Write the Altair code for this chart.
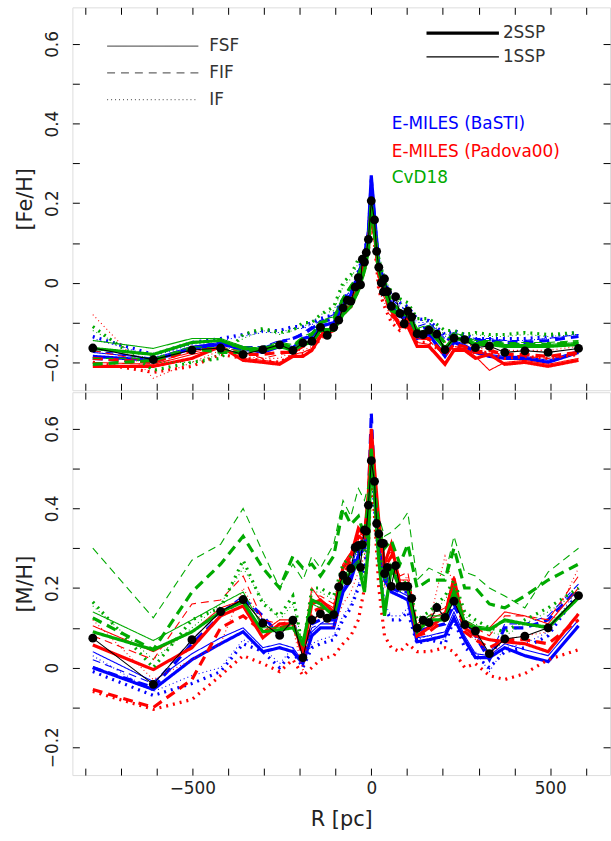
import altair as alt
import pandas as pd

# Radial grid shared by the model profiles (pc)
R_GRID = [-778, -609, -501, -421, -358, -303, -256, -219, -191, -166, -142, -105, -79, -57,
          -36, -19, -8, 0, 9, 21, 37, 56, 80, 102, 128, 161, 206, 231, 261, 291, 330, 373,
          429, 494, 579]

# Radial positions and mean values of the combined measurements
R_POINTS = [-778, -609, -501, -421, -358, -303, -256, -219, -191, -166, -142, -123, -105, -91,
            -79, -67, -57, -45, -36, -30, -25, -19, -14, -8, 0, 9, 15, 21, 28, 34, 37, 45, 56,
            68, 80, 92, 102, 113, 128, 145, 161, 183, 206, 231, 261, 291, 330, 373, 429, 494, 579]
FE_POINTS = [-0.164, -0.193, -0.169, -0.164, -0.180, -0.168, -0.156, -0.170, -0.151, -0.147,
             -0.112, -0.132, -0.112, -0.094, -0.063, -0.044, -0.046, -0.011, 0.013, -0.005,
             0.059, 0.052, 0.076, 0.109, 0.206, 0.158, 0.079, 0.039, 0.0, -0.023, 0.010, -0.022,
             -0.059, -0.035, -0.077, -0.103, -0.071, -0.086, -0.128, -0.130, -0.119, -0.129,
             -0.168, -0.139, -0.143, -0.163, -0.159, -0.175, -0.171, -0.175, -0.165]
MH_POINTS = [0.074, -0.042, 0.070, 0.141, 0.171, 0.112, 0.081, 0.119, 0.025, 0.120, 0.135,
             0.124, 0.133, 0.203, 0.232, 0.218, 0.249, 0.302, 0.307, 0.252, 0.309, 0.346, 0.343,
             0.408, 0.520, 0.468, 0.362, 0.336, 0.312, 0.312, 0.236, 0.252, 0.204, 0.256, 0.204,
             0.204, 0.204, 0.174, 0.099, 0.119, 0.113, 0.151, 0.126, 0.167, 0.108, 0.092, 0.035,
             0.072, 0.079, 0.100, 0.181]

# [Fe/H] profiles
FE_BASTI_FSF_2SSP = [-0.185, -0.195, -0.165, -0.155, -0.165, -0.175, -0.16, -0.165, -0.14, -0.135, -0.11, -0.10, -0.06, -0.03, 0.02, 0.07, 0.13, 0.27, 0.17, 0.05, 0.0, -0.06, -0.085, -0.09, -0.14, -0.13, -0.185, -0.15, -0.16, -0.175, -0.185, -0.19, -0.19, -0.2, -0.175]
FE_BASTI_FSF_1SSP = [-0.175, -0.19, -0.16, -0.15, -0.16, -0.17, -0.155, -0.16, -0.14, -0.13, -0.105, -0.10, -0.055, -0.03, 0.02, 0.065, 0.12, 0.25, 0.16, 0.05, 0.0, -0.055, -0.08, -0.085, -0.135, -0.125, -0.18, -0.145, -0.155, -0.17, -0.18, -0.185, -0.185, -0.195, -0.17]
FE_BASTI_FIF_2SSP = [-0.19, -0.2, -0.165, -0.15, -0.17, -0.165, -0.15, -0.14, -0.13, -0.115, -0.10, -0.09, -0.05, -0.03, 0.02, 0.07, 0.12, 0.26, 0.16, 0.04, 0.0, -0.05, -0.07, -0.08, -0.12, -0.11, -0.15, -0.13, -0.14, -0.145, -0.145, -0.15, -0.15, -0.145, -0.135]
FE_BASTI_FIF_1SSP = [-0.17, -0.19, -0.16, -0.15, -0.16, -0.16, -0.145, -0.14, -0.125, -0.11, -0.095, -0.08, -0.04, -0.02, 0.03, 0.08, 0.12, 0.24, 0.15, 0.05, 0.01, -0.04, -0.06, -0.07, -0.11, -0.10, -0.14, -0.125, -0.135, -0.14, -0.14, -0.145, -0.145, -0.14, -0.13]
FE_BASTI_IF_2SSP = [-0.135, -0.18, -0.15, -0.14, -0.13, -0.12, -0.12, -0.11, -0.11, -0.1, -0.09, -0.08, -0.04, -0.02, 0.03, 0.08, 0.12, 0.24, 0.14, 0.04, 0.0, -0.03, -0.05, -0.06, -0.09, -0.095, -0.13, -0.12, -0.13, -0.14, -0.14, -0.14, -0.14, -0.135, -0.125]
FE_BASTI_IF_1SSP = [-0.14, -0.185, -0.155, -0.145, -0.135, -0.125, -0.125, -0.115, -0.115, -0.105, -0.095, -0.085, -0.045, -0.025, 0.025, 0.07, 0.11, 0.22, 0.13, 0.035, -0.005, -0.04, -0.06, -0.065, -0.1, -0.1, -0.135, -0.125, -0.135, -0.145, -0.145, -0.145, -0.145, -0.14, -0.13]
FE_PADOVA_FSF_2SSP = [-0.21, -0.21, -0.19, -0.16, -0.195, -0.2, -0.205, -0.185, -0.185, -0.17, -0.135, -0.12, -0.075, -0.06, -0.01, 0.04, 0.09, 0.17, 0.12, 0.02, -0.02, -0.07, -0.11, -0.11, -0.16, -0.16, -0.205, -0.17, -0.17, -0.19, -0.18, -0.205, -0.2, -0.21, -0.195]
FE_PADOVA_FSF_1SSP = [-0.2, -0.205, -0.18, -0.165, -0.19, -0.195, -0.2, -0.18, -0.175, -0.165, -0.13, -0.115, -0.07, -0.055, -0.005, 0.045, 0.1, 0.18, 0.13, 0.025, -0.015, -0.065, -0.1, -0.1, -0.15, -0.155, -0.2, -0.165, -0.165, -0.185, -0.22, -0.2, -0.195, -0.205, -0.19]
FE_PADOVA_FIF_2SSP = [-0.19, -0.2, -0.17, -0.165, -0.18, -0.18, -0.175, -0.175, -0.16, -0.15, -0.125, -0.12, -0.07, -0.05, 0.0, 0.05, 0.1, 0.19, 0.13, 0.02, -0.03, -0.08, -0.1, -0.09, -0.14, -0.14, -0.18, -0.155, -0.16, -0.175, -0.17, -0.18, -0.18, -0.185, -0.175]
FE_PADOVA_FIF_1SSP = [-0.17, -0.2, -0.175, -0.16, -0.175, -0.19, -0.18, -0.175, -0.16, -0.145, -0.13, -0.12, -0.08, -0.06, 0.0, 0.05, 0.12, 0.2, 0.12, 0.01, -0.04, -0.085, -0.105, -0.095, -0.14, -0.145, -0.185, -0.16, -0.165, -0.18, -0.175, -0.18, -0.185, -0.19, -0.18]
FE_PADOVA_IF_2SSP = [-0.2, -0.225, -0.21, -0.18, -0.19, -0.195, -0.2, -0.18, -0.18, -0.17, -0.14, -0.12, -0.08, -0.06, -0.02, 0.03, 0.08, 0.16, 0.1, -0.02, -0.06, -0.1, -0.12, -0.11, -0.15, -0.15, -0.18, -0.16, -0.165, -0.175, -0.175, -0.19, -0.185, -0.19, -0.18]
FE_PADOVA_IF_1SSP = [-0.08, -0.24, -0.2, -0.17, -0.185, -0.19, -0.19, -0.17, -0.17, -0.16, -0.13, -0.11, -0.07, -0.05, -0.01, 0.04, 0.09, 0.15, 0.1, -0.02, -0.05, -0.09, -0.11, -0.1, -0.13, -0.125, -0.15, -0.14, -0.15, -0.165, -0.165, -0.17, -0.17, -0.17, -0.16]
FE_CVD_FSF_2SSP = [-0.165, -0.18, -0.15, -0.145, -0.165, -0.17, -0.16, -0.17, -0.155, -0.15, -0.12, -0.12, -0.08, -0.06, -0.02, 0.03, 0.08, 0.2, 0.13, 0.03, -0.02, -0.07, -0.08, -0.08, -0.13, -0.12, -0.165, -0.14, -0.145, -0.155, -0.155, -0.16, -0.16, -0.16, -0.155]
FE_CVD_FSF_1SSP = [-0.145, -0.165, -0.14, -0.14, -0.16, -0.165, -0.155, -0.165, -0.15, -0.145, -0.115, -0.115, -0.07, -0.05, -0.01, 0.04, 0.09, 0.19, 0.12, 0.03, -0.015, -0.065, -0.075, -0.075, -0.125, -0.115, -0.16, -0.135, -0.14, -0.15, -0.15, -0.155, -0.155, -0.155, -0.15]
FE_CVD_FIF_2SSP = [-0.205, -0.195, -0.165, -0.175, -0.175, -0.165, -0.155, -0.16, -0.14, -0.13, -0.1, -0.09, -0.04, -0.01, 0.02, 0.06, 0.1, 0.19, 0.12, 0.02, 0.0, -0.05, -0.07, -0.07, -0.12, -0.11, -0.15, -0.13, -0.14, -0.15, -0.15, -0.155, -0.155, -0.155, -0.15]
FE_CVD_FIF_1SSP = [-0.19, -0.19, -0.16, -0.165, -0.17, -0.16, -0.15, -0.155, -0.135, -0.125, -0.095, -0.085, -0.035, -0.005, 0.025, 0.065, 0.11, 0.18, 0.11, 0.02, -0.005, -0.05, -0.065, -0.065, -0.115, -0.105, -0.145, -0.125, -0.135, -0.145, -0.145, -0.15, -0.15, -0.15, -0.145]
FE_CVD_IF_2SSP = [-0.11, -0.22, -0.2, -0.19, -0.13, -0.115, -0.125, -0.12, -0.1, -0.1, -0.08, -0.06, 0.0, 0.02, 0.06, 0.07, 0.1, 0.2, 0.14, 0.06, 0.0, -0.02, -0.04, -0.05, -0.09, -0.09, -0.12, -0.12, -0.13, -0.125, -0.13, -0.13, -0.125, -0.13, -0.125]
FE_CVD_IF_1SSP = [-0.12, -0.2, -0.2, -0.18, -0.14, -0.12, -0.13, -0.12, -0.11, -0.1, -0.08, -0.07, -0.01, 0.01, 0.05, 0.06, 0.11, 0.18, 0.13, 0.07, 0.02, -0.03, -0.05, -0.06, -0.09, -0.1, -0.13, -0.125, -0.135, -0.13, -0.135, -0.135, -0.13, -0.135, -0.13]

# [M/H] profiles
MH_BASTI_FSF_2SSP = [0.0, -0.055, 0.02, 0.06, 0.09, 0.04, 0.05, 0.04, 0.01, 0.08, 0.10, 0.10, 0.19, 0.22, 0.28, 0.30, 0.37, 0.58, 0.45, 0.30, 0.22, 0.19, 0.18, 0.17, 0.065, 0.07, 0.08, 0.125, 0.07, 0.025, 0.025, 0.05, 0.03, 0.015, 0.105]
MH_BASTI_FSF_1SSP = [0.04, -0.035, 0.035, 0.075, 0.1, 0.05, 0.06, 0.05, 0.015, 0.09, 0.11, 0.11, 0.2, 0.23, 0.29, 0.31, 0.38, 0.56, 0.44, 0.31, 0.23, 0.2, 0.19, 0.18, 0.075, 0.08, 0.09, 0.14, 0.08, 0.035, 0.03, 0.06, 0.045, 0.03, 0.12]
MH_BASTI_FIF_2SSP = [0.0, -0.05, 0.06, 0.13, 0.175, 0.13, 0.08, 0.12, 0.03, 0.11, 0.12, 0.12, 0.21, 0.24, 0.30, 0.33, 0.42, 0.64, 0.46, 0.33, 0.24, 0.2, 0.19, 0.19, 0.09, 0.10, 0.11, 0.16, 0.10, 0.08, 0.02, 0.1, 0.1, 0.12, 0.20]
MH_BASTI_FIF_1SSP = [0.02, -0.04, 0.07, 0.14, 0.18, 0.12, 0.09, 0.11, 0.04, 0.1, 0.11, 0.13, 0.22, 0.25, 0.31, 0.33, 0.4, 0.6, 0.45, 0.32, 0.23, 0.21, 0.2, 0.19, 0.1, 0.11, 0.12, 0.15, 0.11, 0.085, 0.03, 0.11, 0.11, 0.13, 0.21]
MH_BASTI_IF_2SSP = [-0.01, -0.07, -0.04, -0.01, 0.06, 0.04, 0.0, 0.04, 0.0, 0.05, 0.06, 0.07, 0.12, 0.15, 0.2, 0.25, 0.33, 0.55, 0.4, 0.27, 0.15, 0.12, 0.12, 0.14, 0.06, 0.07, 0.06, 0.12, 0.05, 0.03, 0.0, 0.04, 0.05, 0.08, 0.19]
MH_BASTI_IF_1SSP = [0.03, -0.06, -0.02, 0.0, 0.07, 0.05, 0.01, 0.05, 0.01, 0.06, 0.07, 0.08, 0.13, 0.16, 0.21, 0.26, 0.34, 0.53, 0.41, 0.28, 0.16, 0.13, 0.13, 0.15, 0.07, 0.08, 0.07, 0.13, 0.06, 0.04, -0.01, 0.05, 0.06, 0.09, 0.2]
MH_PADOVA_FSF_2SSP = [0.057, -0.005, 0.05, 0.13, 0.155, 0.075, 0.11, 0.11, 0.04, 0.16, 0.17, 0.14, 0.25, 0.28, 0.35, 0.33, 0.44, 0.60, 0.50, 0.37, 0.26, 0.31, 0.21, 0.21, 0.08, 0.10, 0.13, 0.225, 0.10, 0.08, 0.07, 0.065, 0.06, 0.04, 0.135]
MH_PADOVA_FSF_1SSP = [0.105, 0.04, 0.09, 0.15, 0.17, 0.09, 0.12, 0.12, 0.05, 0.2, 0.17, 0.15, 0.26, 0.29, 0.33, 0.34, 0.43, 0.58, 0.49, 0.36, 0.27, 0.3, 0.22, 0.22, 0.1, 0.12, 0.14, 0.23, 0.11, 0.09, 0.1, 0.14, 0.13, 0.11, 0.2]
MH_PADOVA_FIF_2SSP = [-0.055, -0.1, -0.03, 0.1, 0.13, 0.09, 0.1, 0.11, 0.03, 0.14, 0.15, 0.14, 0.23, 0.27, 0.33, 0.32, 0.42, 0.58, 0.48, 0.35, 0.25, 0.28, 0.2, 0.2, 0.08, 0.09, 0.12, 0.2, 0.09, 0.07, 0.05, 0.07, 0.07, 0.06, 0.12]
MH_PADOVA_FIF_1SSP = [0.08, 0.02, 0.16, 0.17, 0.23, 0.12, 0.11, 0.12, 0.05, 0.18, 0.18, 0.16, 0.26, 0.29, 0.34, 0.35, 0.45, 0.6, 0.5, 0.37, 0.28, 0.29, 0.23, 0.24, 0.11, 0.13, 0.15, 0.22, 0.12, 0.1, 0.08, 0.13, 0.13, 0.12, 0.23]
MH_PADOVA_IF_2SSP = [-0.06, -0.105, -0.08, -0.02, 0.03, 0.01, -0.01, 0.02, -0.02, 0.0, 0.02, 0.03, 0.06, 0.08, 0.12, 0.2, 0.3, 0.5, 0.38, 0.2, 0.08, 0.05, 0.04, 0.06, 0.04, 0.04, 0.05, 0.04, 0.0, 0.01, -0.02, -0.03, -0.015, 0.02, 0.045]
MH_PADOVA_IF_1SSP = [0.12, -0.03, 0.02, 0.06, 0.2, 0.11, 0.09, 0.1, -0.01, 0.12, 0.13, 0.1, 0.16, 0.19, 0.24, 0.28, 0.38, 0.55, 0.43, 0.3, 0.2, 0.24, 0.21, 0.23, 0.09, 0.11, 0.28, 0.2, 0.09, 0.07, 0.03, 0.07, 0.08, 0.09, 0.25]
MH_CVD_FSF_2SSP = [0.09, 0.045, 0.09, 0.14, 0.165, 0.09, 0.095, 0.1, 0.06, 0.17, 0.16, 0.13, 0.22, 0.24, 0.26, 0.19, 0.30, 0.55, 0.43, 0.27, 0.13, 0.25, 0.2, 0.2, 0.09, 0.12, 0.12, 0.19, 0.11, 0.1, 0.095, 0.12, 0.11, 0.1, 0.175]
MH_CVD_FSF_1SSP = [0.14, 0.068, 0.12, 0.16, 0.19, 0.1, 0.1, 0.11, 0.07, 0.16, 0.15, 0.14, 0.23, 0.25, 0.27, 0.22, 0.32, 0.53, 0.42, 0.28, 0.16, 0.24, 0.21, 0.21, 0.1, 0.13, 0.13, 0.2, 0.12, 0.105, 0.1, 0.115, 0.11, 0.105, 0.18]
MH_CVD_FIF_2SSP = [0.125, 0.045, 0.19, 0.26, 0.33, 0.25, 0.20, 0.28, 0.25, 0.26, 0.23, 0.28, 0.40, 0.36, 0.38, 0.33, 0.42, 0.50, 0.45, 0.35, 0.30, 0.32, 0.26, 0.31, 0.20, 0.22, 0.22, 0.30, 0.20, 0.20, 0.16, 0.15, 0.18, 0.22, 0.26]
MH_CVD_FIF_1SSP = [0.30, 0.125, 0.27, 0.31, 0.40, 0.29, 0.20, 0.26, 0.22, 0.28, 0.25, 0.31, 0.42, 0.38, 0.45, 0.42, 0.46, 0.55, 0.47, 0.38, 0.33, 0.34, 0.36, 0.39, 0.22, 0.25, 0.23, 0.33, 0.24, 0.23, 0.20, 0.18, 0.15, 0.24, 0.30]
MH_CVD_IF_2SSP = [0.165, 0.0, 0.12, 0.15, 0.27, 0.16, 0.13, 0.18, 0.05, 0.2, 0.2, 0.18, 0.26, 0.28, 0.3, 0.29, 0.38, 0.55, 0.44, 0.3, 0.22, 0.26, 0.2, 0.22, 0.12, 0.14, 0.18, 0.22, 0.14, 0.12, 0.1, 0.09, 0.12, 0.15, 0.2]
MH_CVD_IF_1SSP = [0.155, 0.02, 0.1, 0.16, 0.25, 0.17, 0.12, 0.16, 0.06, 0.19, 0.19, 0.17, 0.25, 0.27, 0.29, 0.28, 0.37, 0.53, 0.43, 0.29, 0.21, 0.25, 0.19, 0.21, 0.11, 0.13, 0.17, 0.21, 0.13, 0.11, 0.09, 0.08, 0.11, 0.14, 0.19]

MODELS = ["E-MILES (BaSTI)", "E-MILES (Padova00)", "CvD18"]
MODEL_COLORS = ["#0000ff", "#ff0000", "#00aa00"]
SSPS = ["2SSP", "1SSP"]

FE_SERIES = [
    (0, "FSF", "2SSP", FE_BASTI_FSF_2SSP), (0, "FSF", "1SSP", FE_BASTI_FSF_1SSP),
    (0, "FIF", "2SSP", FE_BASTI_FIF_2SSP), (0, "FIF", "1SSP", FE_BASTI_FIF_1SSP),
    (0, "IF", "2SSP", FE_BASTI_IF_2SSP), (0, "IF", "1SSP", FE_BASTI_IF_1SSP),
    (1, "FSF", "2SSP", FE_PADOVA_FSF_2SSP), (1, "FSF", "1SSP", FE_PADOVA_FSF_1SSP),
    (1, "FIF", "2SSP", FE_PADOVA_FIF_2SSP), (1, "FIF", "1SSP", FE_PADOVA_FIF_1SSP),
    (1, "IF", "2SSP", FE_PADOVA_IF_2SSP), (1, "IF", "1SSP", FE_PADOVA_IF_1SSP),
    (2, "FSF", "2SSP", FE_CVD_FSF_2SSP), (2, "FSF", "1SSP", FE_CVD_FSF_1SSP),
    (2, "FIF", "2SSP", FE_CVD_FIF_2SSP), (2, "FIF", "1SSP", FE_CVD_FIF_1SSP),
    (2, "IF", "2SSP", FE_CVD_IF_2SSP), (2, "IF", "1SSP", FE_CVD_IF_1SSP),
]
MH_SERIES = [
    (0, "FSF", "2SSP", MH_BASTI_FSF_2SSP), (0, "FSF", "1SSP", MH_BASTI_FSF_1SSP),
    (0, "FIF", "2SSP", MH_BASTI_FIF_2SSP), (0, "FIF", "1SSP", MH_BASTI_FIF_1SSP),
    (0, "IF", "2SSP", MH_BASTI_IF_2SSP), (0, "IF", "1SSP", MH_BASTI_IF_1SSP),
    (1, "FSF", "2SSP", MH_PADOVA_FSF_2SSP), (1, "FSF", "1SSP", MH_PADOVA_FSF_1SSP),
    (1, "FIF", "2SSP", MH_PADOVA_FIF_2SSP), (1, "FIF", "1SSP", MH_PADOVA_FIF_1SSP),
    (1, "IF", "2SSP", MH_PADOVA_IF_2SSP), (1, "IF", "1SSP", MH_PADOVA_IF_1SSP),
    (2, "FSF", "2SSP", MH_CVD_FSF_2SSP), (2, "FSF", "1SSP", MH_CVD_FSF_1SSP),
    (2, "FIF", "2SSP", MH_CVD_FIF_2SSP), (2, "FIF", "1SSP", MH_CVD_FIF_1SSP),
    (2, "IF", "2SSP", MH_CVD_IF_2SSP), (2, "IF", "1SSP", MH_CVD_IF_1SSP),
]

X_DOMAIN = [-835, 667]
Y_DOMAIN = [-0.27, 0.692]
FONT = "DejaVu Sans"

STYLE_DOMAIN = ["FSF 2SSP", "FSF 1SSP", "FIF 2SSP", "FIF 1SSP", "IF 2SSP", "IF 1SSP"]
STYLE_DASH = [[1, 0], [1, 0], [10, 6], [8, 5], [2, 5], [1, 3]]


def profile_table(series):
    rows = []
    for k, (m, meth, ssp, vals) in enumerate(series):
        for i, (r, v) in enumerate(zip(R_GRID, vals)):
            rows.append({"R": r, "v": v, "model": MODELS[m], "style": f"{meth} {ssp}",
                         "ssp": ssp, "series": k, "i": i})
    return pd.DataFrame(rows)


def x_enc(with_labels, orient="bottom"):
    axis = alt.Axis(
        orient=orient, values=list(range(-800, 700, 100)), domain=False,
        tickSize=7, offset=-7, tickColor="black", tickWidth=1,
        labels=with_labels,
        labelExpr="datum.value % 500 === 0 ? datum.label : ''",
        labelFontSize=17, labelFont=FONT, labelColor="#222", labelPadding=6,
        labelOverlap=False, labelFlush=False, grid=False,
        title="R [pc]" if with_labels else None,
        titleFontSize=21, titleFont=FONT, titleFontWeight="normal", titleColor="#222",
        titlePadding=12,
    )
    return alt.X("R:Q", scale=alt.Scale(domain=X_DOMAIN, nice=False, zero=False), axis=axis)


def y_enc(title, orient="left"):
    axis = alt.Axis(
        orient=orient, values=[-0.2, -0.1, 0.0, 0.1, 0.2, 0.3, 0.4, 0.5, 0.6], domain=False,
        tickSize=7, offset=-7, tickColor="black", tickWidth=1,
        labels=title is not None, labelAngle=270, labelAlign="center", labelBaseline="bottom",
        labelExpr="round(datum.value * 10) % 2 === 0 ? (datum.value === 0 ? '0' : format(datum.value, '.1f')) : ''",
        labelFontSize=17, labelFont=FONT, labelColor="#222", labelPadding=11,
        labelOverlap=False, labelFlush=False, grid=False,
        title=title,
        titleFontSize=21, titleFont=FONT, titleFontWeight="normal", titleColor="#222",
        titlePadding=8,
    )
    return alt.Y("v:Q", scale=alt.Scale(domain=Y_DOMAIN, nice=False, zero=False), axis=axis)


def panel(series, r_pts, v_pts, title, show_x_labels, height, legend):
    prof = profile_table(series)
    pts = pd.DataFrame({"R": r_pts, "v": v_pts})

    lines = alt.Chart(prof).mark_line(clip=True).encode(
        x=x_enc(show_x_labels),
        y=y_enc(title),
        color=alt.Color("model:N", scale=alt.Scale(domain=MODELS, range=MODEL_COLORS), legend=None),
        strokeDash=alt.StrokeDash("style:N", scale=alt.Scale(domain=STYLE_DOMAIN, range=STYLE_DASH), legend=None),
        strokeWidth=alt.StrokeWidth("ssp:N", scale=alt.Scale(domain=SSPS, range=[3.2, 1.1]), legend=None),
        detail="series:N",
        order="i:Q",
    )
    mean_line = alt.Chart(pts).mark_line(color="black", strokeWidth=1.1, clip=True).encode(
        x=alt.X("R:Q", axis=None), y=alt.Y("v:Q", axis=None)
    )
    # mirrored tick marks on the top and right edges
    mean_pts = alt.Chart(pts).mark_circle(color="black", opacity=1, size=80, clip=True).encode(
        x=x_enc(False, orient="top"), y=y_enc(None, orient="right")
    )
    layers = [lines, mean_line, mean_pts]

    if legend:
        one = pd.DataFrame({"k": [0]})
        key_rules = [
            (35, 127, 39, [1, 0], "FSF"),
            (35, 127, 66, [8, 6], "FIF"),
            (35, 127, 93, [1, 3], "IF"),
        ]
        for x0, x1, yy, dash, lab in key_rules:
            layers.append(alt.Chart(one).mark_rule(strokeDash=dash, strokeWidth=1.3, color="#666666").encode(
                x=alt.value(x0), x2=alt.value(x1), y=alt.value(yy)))
            layers.append(alt.Chart(one).mark_text(
                text=lab, align="left", baseline="middle", font=FONT, fontSize=17, color="#333333"
            ).encode(x=alt.value(x1 + 11), y=alt.value(yy)))
        for yy, w, lab in [(26, 3.2, "2SSP"), (50, 1.3, "1SSP")]:
            layers.append(alt.Chart(one).mark_rule(strokeWidth=w, color="black").encode(
                x=alt.value(357), x2=alt.value(430), y=alt.value(yy)))
            layers.append(alt.Chart(one).mark_text(
                text=lab, align="left", baseline="middle", font=FONT, fontSize=17, color="#333333"
            ).encode(x=alt.value(434), y=alt.value(yy)))
        for yy, lab, col in zip([118, 146, 172], MODELS, MODEL_COLORS):
            layers.append(alt.Chart(one).mark_text(
                text=lab, align="left", baseline="middle", font=FONT, fontSize=17, color=col
            ).encode(x=alt.value(322), y=alt.value(yy)))

    return alt.layer(*layers).resolve_axis(x="independent", y="independent").properties(
        width=542, height=height
    )


top = panel(FE_SERIES, R_POINTS, FE_POINTS, "[Fe/H]", False, 386, True)
bottom = panel(MH_SERIES, R_POINTS, MH_POINTS, "[M/H]", True, 386, False)

chart = alt.vconcat(top, bottom, spacing=0).properties(
    padding={"left": 14, "top": 3, "right": 0, "bottom": 0}
).configure_view(stroke="black", strokeWidth=1.2).configure(background="white")

chart.save("out.html", embed_options={"renderer": "svg", "actions": False})
